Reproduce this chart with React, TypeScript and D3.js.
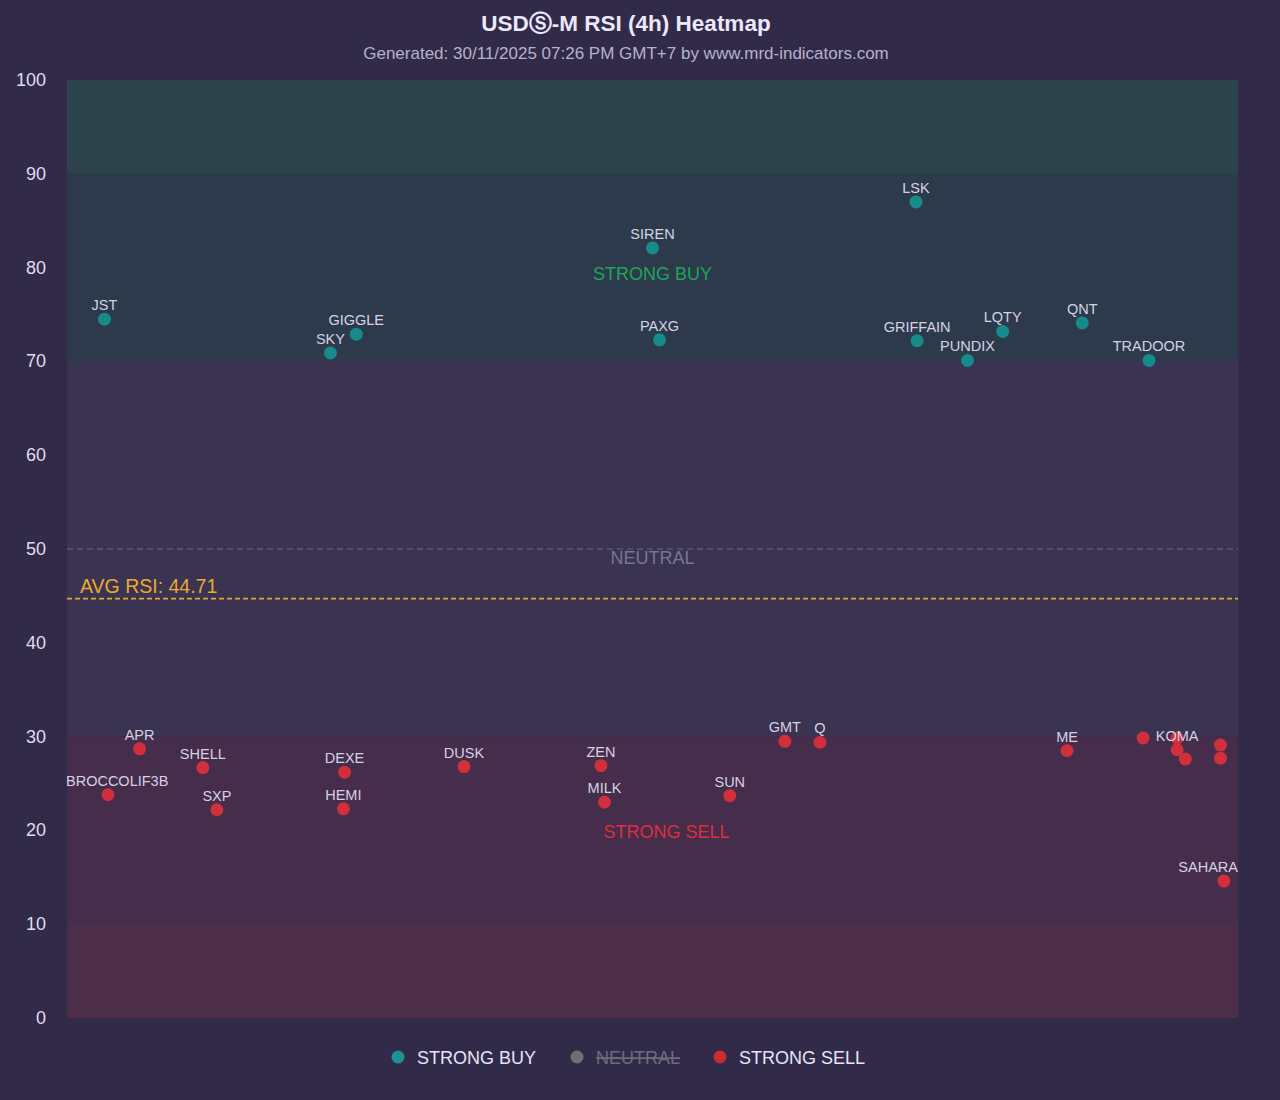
import React from "react";
import * as d3 from "d3";

// RSI readings: x is the plotting slot (0-100), rsi is the 4h RSI value
const buyNames = ["JST", "SKY", "GIGGLE", "SIREN", "PAXG", "LSK", "GRIFFAIN", "PUNDIX", "LQTY", "QNT", "TRADOOR"];
const buyX = [3.2, 22.5, 24.7, 50.0, 50.6, 72.5, 72.6, 76.9, 79.9, 86.7, 92.4];
const buyRsi = [74.5, 70.9, 72.9, 82.1, 72.3, 87.0, 72.2, 70.1, 73.2, 74.1, 70.1];

const sellNames = [
  "BROCCOLIF3B", "APR", "SHELL", "SXP", "HEMI", "DEXE", "DUSK", "ZEN", "MILK", "SUN", "GMT", "Q",
  "ME", "", "", "KOMA", "", "", "", "SAHARA",
];
const sellX = [3.5, 6.2, 11.6, 12.8, 23.6, 23.7, 33.9, 45.6, 45.9, 56.6, 61.3, 64.3, 85.4, 91.9, 94.8, 94.8, 95.5, 98.5, 98.5, 98.8];
const sellRsi = [23.8, 28.7, 26.7, 22.2, 22.3, 26.2, 26.8, 26.9, 23.0, 23.7, 29.5, 29.4, 28.5, 29.85, 29.85, 28.6, 27.6, 29.1, 27.7, 14.6];

const zones = [
  { from: 90, to: 100, color: "#2c434b" },
  { from: 70, to: 90, color: "#2c3a4b" },
  { from: 30, to: 70, color: "#3a3351" },
  { from: 10, to: 30, color: "#452d4b" },
  { from: 0, to: 10, color: "#4c2e48" },
];
const yTicks = [0, 10, 20, 30, 40, 50, 60, 70, 80, 90, 100];
const avgRsi = 44.71;

const legendItems = [
  { label: "STRONG BUY", color: "#1a9394", off: false },
  { label: "NEUTRAL", color: "#707070", off: true },
  { label: "STRONG SELL", color: "#cc2a33", off: false },
];

const W = 1280;
const H = 1100;
const FONT = "'Liberation Sans', Arial, sans-serif";
const LABEL_SIZE = 14.5;

let ctx: CanvasRenderingContext2D | null = null;
function textWidth(s: string) {
  if (!ctx) ctx = document.createElement("canvas").getContext("2d");
  if (!ctx) return s.length * 8;
  ctx.font = `${LABEL_SIZE}px ${FONT}`;
  return ctx.measureText(s).width;
}

export default function App() {
  const x = d3.scaleLinear().domain([0, 100]).range([67, 1238]);
  const y = d3.scaleLinear().domain([0, 100]).range([1018, 80]);
  const midX = (x(0) + x(100)) / 2;

  const buy = buyNames.map((n, i) => ({ name: n, x: buyX[i], rsi: buyRsi[i] }));
  const sell = sellNames.map((n, i) => ({ name: n, x: sellX[i], rsi: sellRsi[i] }));

  const legendX = [398, 577, 720];

  // keep labels inside the plot area
  const labelX = (name: string, cx: number) => {
    const half = textWidth(name) / 2;
    return Math.max(x(0) + half - 1, Math.min(x(100) - half, cx));
  };

  return (
    <div style={{ position: "absolute", left: 0, top: 0 }}>
      <svg width={W} height={H} style={{ display: "block", fontFamily: FONT }}>
        <rect width={W} height={H} fill="#312a49" />

        <text x={626} y={31} textAnchor="middle" fontSize={22.5} fontWeight="bold" fill="#ece7fb">
          USDⓈ-M RSI (4h) Heatmap
        </text>
        <text x={626} y={59} textAnchor="middle" fontSize={17} fill="#b7b2ca">
          Generated: 30/11/2025 07:26 PM GMT+7 by www.mrd-indicators.com
        </text>

        {zones.map((z) => (
          <rect
            key={z.from}
            x={x(0)}
            y={y(z.to)}
            width={x(100) - x(0)}
            height={y(z.from) - y(z.to)}
            fill={z.color}
          />
        ))}

        {yTicks.map((t) => (
          <text key={t} x={46} y={y(t) + 6} textAnchor="end" fontSize={18} fill="#e0dcef">
            {t}
          </text>
        ))}

        {/* zone labels */}
        <text x={midX} y={y(79.3) + 6} textAnchor="middle" fontSize={18} fill="#1fa558">
          STRONG BUY
        </text>
        <text x={midX + 14} y={y(19.8) + 6} textAnchor="middle" fontSize={18} fill="#dd2f3d">
          STRONG SELL
        </text>

        {/* neutral line */}
        <line x1={x(0)} x2={x(100)} y1={y(50)} y2={y(50)} stroke="#6c6687" strokeWidth={1.2} strokeDasharray="6,4" />
        <text x={midX} y={y(50) + 15} textAnchor="middle" fontSize={18} fill="#7b7592">
          NEUTRAL
        </text>

        {/* average line */}
        <line
          x1={x(0)}
          x2={x(100)}
          y1={y(avgRsi)}
          y2={y(avgRsi)}
          stroke="#e8a535"
          strokeWidth={1.6}
          strokeDasharray="5,3"
        />
        <text x={80} y={y(avgRsi) - 6} fontSize={19.5} fill="#eda831">
          AVG RSI: {avgRsi}
        </text>

        {/* points */}
        {buy.map((d, i) => (
          <circle key={"b" + i} cx={x(d.x)} cy={y(d.rsi)} r={6.5} fill="#178a8c" />
        ))}
        {sell.map((d, i) => (
          <circle key={"s" + i} cx={x(d.x)} cy={y(d.rsi)} r={6.5} fill="#d12f3c" />
        ))}

        {/* labels */}
        {[...buy, ...sell]
          .filter((d) => d.name)
          .map((d, i) => (
            <text
              key={"l" + i}
              x={labelX(d.name, x(d.x))}
              y={y(d.rsi) - 9}
              textAnchor="middle"
              fontSize={LABEL_SIZE}
              fill="#d6d2e4"
            >
              {d.name}
            </text>
          ))}

        {/* legend */}
        {legendItems.map((l, i) => (
          <g key={l.label} transform={`translate(${legendX[i]},1057)`}>
            <circle r={6.5} fill={l.color} />
            <text
              x={19}
              y={6.5}
              fontSize={18}
              fill={l.off ? "#6e6a7c" : "#e8e4f6"}
              textDecoration={l.off ? "line-through" : undefined}
            >
              {l.label}
            </text>
          </g>
        ))}
      </svg>
    </div>
  );
}
